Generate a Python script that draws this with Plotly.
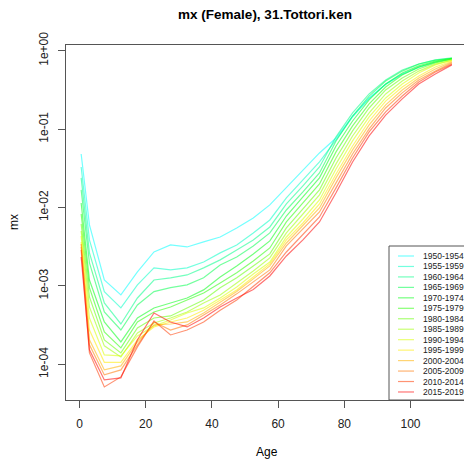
import colorsys
import plotly.graph_objects as go

# Mid-points of the age groups 0, 1-4, 5-9, ..., 110+
ages = [0.5, 3, 7.5, 12.5, 17.5, 22.5, 27.5, 32.5, 37.5, 42.5, 47.5, 52.5,
        57.5, 62.5, 67.5, 72.5, 77.5, 82.5, 87.5, 92.5, 97.5, 102.5, 107.5, 112.5]

periods = ["1950-1954", "1955-1959", "1960-1964", "1965-1969", "1970-1974",
           "1975-1979", "1980-1984", "1985-1989", "1990-1994", "1995-1999",
           "2000-2004", "2005-2009", "2010-2014", "2015-2019"]

mx_1950 = [4.82e-2, 6.0e-3, 1.19e-3, 7.67e-4, 1.51e-3, 2.71e-3, 3.33e-3, 3.14e-3, 3.64e-3, 4.21e-3, 5.49e-3, 7.36e-3,
           1.08e-2, 1.78e-2, 3.01e-2, 4.97e-2, 7.70e-2, 0.147, 0.250, 0.377, 0.505, 0.620, 0.718, 0.786]
mx_1955 = [3.29e-2, 3.86e-3, 8.47e-4, 5.24e-4, 1.03e-3, 1.70e-3, 1.60e-3, 1.70e-3, 2.02e-3, 2.64e-3, 3.33e-3, 4.74e-3,
           6.94e-3, 1.33e-2, 2.25e-2, 3.81e-2, 7.27e-2, 0.143, 0.245, 0.370, 0.500, 0.610, 0.710, 0.780]
mx_1960 = [2.39e-2, 2.64e-3, 6.06e-4, 3.27e-4, 7.02e-4, 1.19e-3, 1.27e-3, 1.38e-3, 1.70e-3, 2.15e-3, 2.88e-3, 3.86e-3,
           5.65e-3, 1.11e-2, 1.89e-2, 3.29e-2, 7.98e-2, 0.161, 0.281, 0.424, 0.568, 0.678, 0.763, 0.810]
mx_1965 = [1.68e-2, 1.97e-3, 4.65e-4, 2.74e-4, 5.72e-4, 8.47e-4, 9.50e-4, 1.03e-3, 1.27e-3, 1.85e-3, 2.34e-3, 3.24e-3,
           4.74e-3, 9.30e-3, 1.58e-2, 2.76e-2, 7.07e-2, 0.147, 0.264, 0.410, 0.550, 0.675, 0.760, 0.800]
mx_1970 = [1.14e-2, 1.19e-3, 3.47e-4, 1.93e-4, 3.90e-4, 5.24e-4, 6.06e-4, 7.02e-4, 8.90e-4, 1.30e-3, 1.80e-3, 2.56e-3,
           3.75e-3, 7.80e-3, 1.37e-2, 2.39e-2, 6.10e-2, 0.127, 0.236, 0.377, 0.520, 0.640, 0.740, 0.800]
mx_1975 = [8.27e-3, 9.50e-4, 2.59e-4, 1.62e-4, 3.47e-4, 4.65e-4, 5.39e-4, 6.62e-4, 8.13e-4, 1.09e-3, 1.47e-3, 2.08e-3,
           3.05e-3, 6.54e-3, 1.14e-2, 2.00e-2, 5.12e-2, 0.110, 0.210, 0.345, 0.490, 0.620, 0.720, 0.785]
mx_1980 = [6.17e-3, 7.26e-4, 2.05e-4, 1.40e-4, 2.91e-4, 3.90e-4, 4.14e-4, 5.24e-4, 6.62e-4, 9.50e-4, 1.27e-3, 1.80e-3,
           2.56e-3, 5.49e-3, 9.58e-3, 1.68e-2, 4.29e-2, 9.50e-2, 0.186, 0.316, 0.450, 0.585, 0.700, 0.785]
mx_1985 = [5.02e-3, 5.39e-4, 1.72e-4, 1.24e-4, 2.51e-4, 3.37e-4, 3.90e-4, 4.65e-4, 6.06e-4, 7.67e-4, 1.09e-3, 1.55e-3,
           2.28e-3, 4.74e-3, 8.27e-3, 1.45e-2, 3.60e-2, 8.18e-2, 0.161, 0.281, 0.410, 0.550, 0.675, 0.760]
mx_1990 = [4.34e-3, 3.90e-4, 1.32e-4, 1.28e-4, 2.30e-4, 3.09e-4, 3.68e-4, 4.52e-4, 5.24e-4, 7.02e-4, 9.70e-4, 1.42e-3,
           2.02e-3, 4.21e-3, 7.14e-3, 1.25e-2, 3.10e-2, 7.07e-2, 0.143, 0.250, 0.377, 0.520, 0.660, 0.760]
mx_1995 = [3.64e-3, 2.74e-4, 1.06e-4, 1.06e-4, 2.05e-4, 3.00e-4, 3.47e-4, 3.90e-4, 4.90e-4, 6.62e-4, 8.90e-4, 1.30e-3,
           1.91e-3, 3.86e-3, 6.35e-3, 1.11e-2, 2.68e-2, 6.10e-2, 0.127, 0.228, 0.345, 0.477, 0.620, 0.740]
mx_2000 = [3.14e-3, 2.05e-4, 8.49e-5, 9.54e-5, 1.93e-4, 3.18e-4, 3.27e-4, 3.47e-4, 4.52e-4, 6.24e-4, 8.47e-4, 1.23e-3,
           1.80e-3, 3.53e-3, 5.82e-3, 9.87e-3, 2.39e-2, 5.43e-2, 0.113, 0.204, 0.316, 0.450, 0.585, 0.720]
mx_2005 = [3.43e-3, 1.77e-4, 7.33e-5, 8.49e-5, 1.77e-4, 3.47e-4, 2.74e-4, 3.18e-4, 4.26e-4, 5.72e-4, 7.92e-4, 1.125e-3,
           1.60e-3, 3.24e-3, 5.33e-3, 8.77e-3, 2.06e-2, 4.82e-2, 0.1006, 0.186, 0.290, 0.424, 0.550, 0.700]
mx_2010 = [2.88e-3, 1.40e-4, 5.15e-5, 6.91e-5, 1.67e-4, 3.57e-4, 2.37e-4, 2.74e-4, 3.47e-4, 4.90e-4, 6.62e-4, 1.00e-3,
           1.47e-3, 2.71e-3, 4.47e-3, 7.58e-3, 1.78e-2, 4.29e-2, 9.20e-2, 0.166, 0.264, 0.400, 0.535, 0.675]
mx_2015 = [2.34e-3, 1.53e-4, 6.32e-5, 6.70e-5, 2.05e-4, 4.52e-4, 3.47e-4, 3.00e-4, 3.90e-4, 5.39e-4, 7.02e-4, 9.00e-4,
           1.34e-3, 2.41e-3, 3.86e-3, 6.54e-3, 1.54e-2, 3.81e-2, 8.18e-2, 0.151, 0.243, 0.377, 0.505, 0.660]

series = [mx_1950, mx_1955, mx_1960, mx_1965, mx_1970, mx_1975, mx_1980,
          mx_1985, mx_1990, mx_1995, mx_2000, mx_2005, mx_2010, mx_2015]

x_ticks = [0, 20, 40, 60, 80, 100]
y_ticks = [1e-4, 1e-3, 1e-2, 1e-1, 1]
y_tick_text = ["1e-04", "1e-03", "1e-02", "1e-01", "1e+00"]

FONT = "Liberation Sans, Arial, sans-serif"
ALPHA = 0.55


def rainbow(n, start=0.5, end=0.0, alpha=ALPHA):
    """Hue sweep from cyan to red, semi-transparent."""
    cols = []
    for k in range(n):
        h = start + (end - start) * k / (n - 1)
        r, g, b = colorsys.hsv_to_rgb(h, 1, 1)
        cols.append(f"rgba({round(r*255)},{round(g*255)},{round(b*255)},{alpha})")
    return cols


colors = rainbow(len(periods))

fig = go.Figure()
for name, vals, col in zip(periods, series, colors):
    fig.add_trace(go.Scatter(x=ages, y=vals, mode="lines", name=name,
                             line=dict(color=col, width=1.2), showlegend=False))

# Figure geometry (pixels)
W, H = 464, 464
L, R, T, B = 66, 0, 45, 64
pw, ph = W - L - R, H - T - B


def px_x(p):
    return (p - L) / pw


def px_y(p):
    return (H - B - p) / ph


axis_col = "#555555"
fig.update_layout(
    width=W, height=H,
    margin=dict(l=L, r=R, t=T, b=B, pad=0),
    paper_bgcolor="white", plot_bgcolor="white",
    font=dict(family=FONT, size=12, color="black"),
    title=dict(text="<b>mx (Female), 31.Tottori.ken</b>", x=265 / W, xanchor="center",
               y=1 - 14 / H, yanchor="middle", font=dict(size=13.5, family=FONT)),
    xaxis=dict(range=[-4.08, 116.16], tickvals=x_ticks, ticks="outside", ticklen=7,
               tickcolor=axis_col, showline=True, linecolor=axis_col, linewidth=1,
               mirror=True, showgrid=False, zeroline=False, ticklabelstandoff=6,
               tickfont=dict(size=12, family=FONT, color="#222")),
    yaxis=dict(type="log", range=[-4.455, 0.073], tickvals=y_ticks, ticktext=y_tick_text,
               ticks="outside", ticklen=7, tickcolor=axis_col, showline=True,
               linecolor=axis_col, linewidth=1, mirror=False, showgrid=False,
               zeroline=False, tickangle=-90, ticklabelstandoff=5,
               tickfont=dict(size=12, family=FONT, color="#222")),
)

annotations = [
    dict(text="Age", x=px_x(267), y=px_y(452), xref="paper", yref="paper",
         showarrow=False, xanchor="center", yanchor="middle", font=dict(size=12, family=FONT)),
    dict(text="mx", x=px_x(14), y=px_y(222), xref="paper", yref="paper", textangle=-90,
         showarrow=False, xanchor="center", yanchor="middle", font=dict(size=12, family=FONT)),
]

# Legend box drawn by hand, with tight row spacing
shapes = [dict(type="rect", xref="paper", yref="paper", x0=px_x(389), x1=px_x(480),
               y0=px_y(400), y1=px_y(246), line=dict(color=axis_col, width=1),
               fillcolor="white", layer="above")]
row0, row_step = 256, 10.46
for i, (name, col) in enumerate(zip(periods, colors)):
    yy = px_y(row0 + i * row_step)
    shapes.append(dict(type="line", xref="paper", yref="paper", x0=px_x(398), x1=px_x(414),
                       y0=yy, y1=yy, line=dict(color=col, width=1.2), layer="above"))
    annotations.append(dict(text=name, x=px_x(421), y=yy, xref="paper", yref="paper",
                            showarrow=False, xanchor="left", yanchor="middle",
                            font=dict(size=8.5, family=FONT, color="#222")))

fig.update_layout(shapes=shapes, annotations=annotations)
fig.write_html("out.html")
